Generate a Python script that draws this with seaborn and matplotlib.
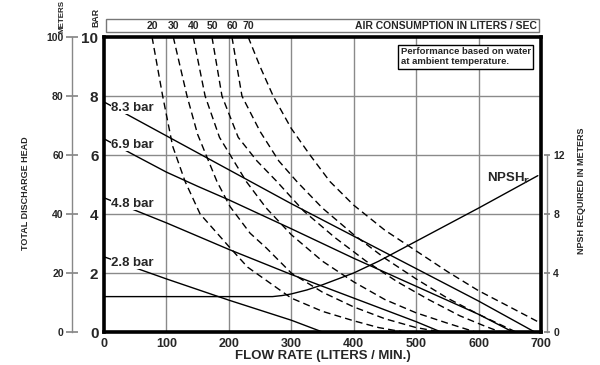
import pandas as pd
import seaborn as sns
import matplotlib.pyplot as plt
from matplotlib.patches import Rectangle

sns.set_theme(style="white")
plt.rcParams["font.family"] = ["Liberation Sans Narrow", "Liberation Sans", "DejaVu Sans"]
plt.rcParams["font.weight"] = "bold"
plt.rcParams["mathtext.default"] = "bf"

# pressure curves (flow l/min, head bar)
p83_flow = [0, 100, 200, 300, 400, 500, 600, 690]
p83_bar = [7.8, 6.65, 5.5, 4.35, 3.25, 2.15, 1.05, 0]
p69_flow = [0, 50, 100, 150, 200, 300, 400, 500, 600, 655]
p69_bar = [6.55, 5.98, 5.42, 4.94, 4.48, 3.5, 2.5, 1.55, 0.6, 0]
p48_flow = [0, 100, 200, 300, 400, 500, 540]
p48_bar = [4.55, 3.7, 2.8, 1.95, 1.15, 0.35, 0]
p28_flow = [0, 100, 200, 300, 350]
p28_bar = [2.55, 1.8, 1.08, 0.4, 0]
pressure_labels = ["8.3 bar", "6.9 bar", "4.8 bar", "2.8 bar"]

# air consumption curves (l/sec)
a20_flow = [77, 94, 110, 130, 154, 200, 230, 270, 300, 350, 400, 440, 480]
a20_bar = [10, 8, 6.3, 5.1, 4.0, 2.9, 2.2, 1.6, 1.15, 0.7, 0.38, 0.15, 0]
a30_flow = [111, 133, 150, 181, 202, 234, 260, 300, 350, 400, 450, 500, 540]
a30_bar = [10, 8, 6.7, 5.1, 4.25, 3.35, 2.85, 2.0, 1.35, 0.85, 0.45, 0.15, 0]
a40_flow = [143, 162, 185, 228, 260, 300, 350, 400, 450, 500, 550, 595]
a40_bar = [10, 8, 6.6, 5.1, 4.2, 3.3, 2.4, 1.7, 1.1, 0.65, 0.3, 0]
a50_flow = [173, 189, 215, 245, 277, 320, 370, 420, 470, 520, 570, 610, 635]
a50_bar = [10, 8, 6.6, 5.8, 5.1, 4.1, 3.2, 2.4, 1.7, 1.1, 0.55, 0.2, 0]
a60_flow = [205, 221, 250, 280, 309, 350, 400, 450, 500, 550, 600, 640, 660]
a60_bar = [10, 8, 6.8, 5.8, 5.1, 4.2, 3.3, 2.5, 1.8, 1.15, 0.6, 0.2, 0]
a70_flow = [231, 250, 271, 300, 330, 362, 400, 450, 500, 550, 600, 650, 695]
a70_bar = [10, 9, 8, 6.9, 6.0, 5.1, 4.3, 3.45, 2.75, 2.05, 1.4, 0.85, 0.35]
air_labels = ["20", "30", "40", "50", "60", "70"]

# NPSH required (meters)
npsh_flow = [0, 270, 285, 300, 325, 350, 375, 400, 440, 480, 540, 600, 695]
npsh_m = [2.4, 2.4, 2.47, 2.58, 2.85, 3.2, 3.6, 4.0, 4.8, 5.7, 7.05, 8.4, 10.6]

fig = plt.figure(figsize=(6, 3.65), dpi=100)
ax = fig.add_axes([0.1733, 0.0904, 0.7283, 0.8082])

for xs in [100, 200, 300, 400, 500, 600]:
    ax.axvline(xs, color="#8a8a8a", lw=1, zorder=0)
for ys in [2, 4, 6, 8]:
    ax.axhline(ys, color="#8a8a8a", lw=1, zorder=0)

pressure = [(p83_flow, p83_bar), (p69_flow, p69_bar), (p48_flow, p48_bar), (p28_flow, p28_bar)]
for (fx, fy), lab in zip(pressure, pressure_labels):
    sns.lineplot(x=fx, y=fy, ax=ax, color="black", lw=1, sort=False, estimator=None)
    ax.text(12, fy[0] - 0.2, lab, fontsize=9.5, fontweight="bold", va="center", ha="left",
            bbox=dict(facecolor="white", edgecolor="none", pad=0.5), zorder=5)

air = [(a20_flow, a20_bar), (a30_flow, a30_bar), (a40_flow, a40_bar),
       (a50_flow, a50_bar), (a60_flow, a60_bar), (a70_flow, a70_bar)]
for (fx, fy), lab in zip(air, air_labels):
    sns.lineplot(x=fx, y=fy, ax=ax, color="black", lw=1, sort=False, estimator=None,
                 linestyle=(0, (5, 3)))
    ax.text(fx[0], 10.39, lab, fontsize=7.5, fontweight="bold", ha="center", va="center")

ax.set_xlim(0, 700)
ax.set_ylim(0, 10)
ax.set_xticks(range(0, 701, 100))
ax.set_yticks(range(0, 11, 2))
ax.tick_params(axis="both", length=0, pad=4)
for t in ax.get_yticklabels():
    t.set_fontsize(11)
    t.set_fontweight("bold")
for t in ax.get_xticklabels():
    t.set_fontsize(9)
    t.set_fontweight("bold")
ax.set_xlabel("FLOW RATE (LITERS / MIN.)", fontsize=9.5, fontweight="bold", labelpad=0)
ax.set_ylabel("")
for s in ax.spines.values():
    s.set_linewidth(2.6)
    s.set_color("black")
    s.set_zorder(6)

# air consumption header box
ax.add_patch(Rectangle((3, 10.16), 694, 0.46, transform=ax.transData, clip_on=False,
                       facecolor="white", edgecolor="#777777", lw=1, zorder=1))
ax.text(693, 10.39, "AIR CONSUMPTION IN LITERS / SEC", fontsize=7.5, fontweight="bold",
        ha="right", va="center")

ax.text(475, 9.33, "Performance based on water\nat ambient temperature.", fontsize=6.8,
        fontweight="bold", ha="left", va="center", linespacing=1.1,
        bbox=dict(facecolor="white", edgecolor="black", lw=1, pad=2))

# NPSH on its own axis
ax_n = ax.twinx()
sns.lineplot(x=npsh_flow, y=npsh_m, ax=ax_n, color="black", lw=1, sort=False, estimator=None)
ax_n.set_ylim(0, 20)
ax_n.set_yticks([0, 4, 8, 12])
ax_n.spines["right"].set_position(("axes", 1.014))
ax_n.spines["right"].set_bounds(0, 12)
ax_n.spines["right"].set_color("#888888")
ax_n.spines["right"].set_linewidth(1)
for side in ["left", "top", "bottom"]:
    ax_n.spines[side].set_visible(False)
ax_n.tick_params(axis="y", direction="inout", length=5, color="#888888", pad=2, labelsize=7.5)
ax_n.set_ylabel("")
ax_n.text(614, 10.4, "NPSH$_\\mathbf{r}$", fontsize=9.5, fontweight="bold", ha="left", va="center")

# head in meters on the far left
ax_m = ax.twinx()
ax_m.set_ylim(0, 100)
ax_m.set_yticks(range(0, 101, 20))
ax_m.yaxis.set_ticks_position("left")
ax_m.yaxis.set_label_position("left")
ax_m.spines["left"].set_position(("axes", -0.073))
ax_m.spines["left"].set_bounds(0, 100)
ax_m.spines["left"].set_color("#888888")
ax_m.spines["left"].set_linewidth(1)
for side in ["right", "top", "bottom"]:
    ax_m.spines[side].set_visible(False)
ax_m.tick_params(axis="y", direction="inout", length=8, color="#888888", pad=2, labelsize=7.5)
ax_m.set_ylabel("")

fig.text(0.042, 0.47, "TOTAL DISCHARGE HEAD", rotation=90, fontsize=6.5, fontweight="bold",
         ha="center", va="center")
fig.text(0.97, 0.477, "NPSH REQUIRED IN METERS", rotation=90, fontsize=6.5, fontweight="bold",
         ha="center", va="center")
fig.text(0.103, 0.91, "METERS", rotation=90, fontsize=5.8, fontweight="bold", ha="center", va="bottom")
fig.text(0.16, 0.925, "BAR", rotation=90, fontsize=6.3, fontweight="bold", ha="center", va="bottom")

fig.savefig("out.png", dpi=100)
